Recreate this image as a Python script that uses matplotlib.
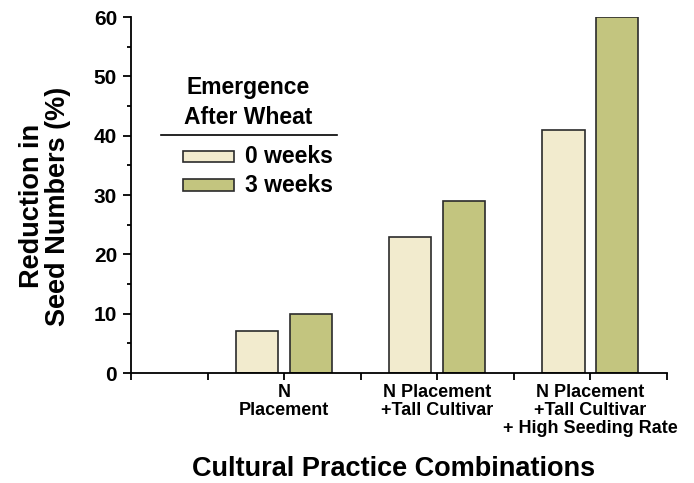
import numpy as np
import matplotlib.pyplot as plt
from matplotlib.ticker import MultipleLocator
from matplotlib.lines import Line2D
from matplotlib.patches import Rectangle

plt.rcParams['font.family'] = ['Liberation Sans', 'DejaVu Sans']
plt.rcParams['font.weight'] = 'bold'

categories = ['N\nPlacement', 'N Placement\n+Tall Cultivar',
              'N Placement\n+Tall Cultivar\n+ High Seeding Rate']
series_names = ['0 weeks', '3 weeks']
weeks0 = [7, 23, 41]
weeks3 = [10, 29, 60]
colors = ['#F2EBCE', '#C3C57F']

fig = plt.figure(figsize=(6.94, 4.83), dpi=100)
ax = fig.add_axes([0.1888, 0.2277, 0.7723, 0.737])

x = np.arange(1, len(categories) + 1)
w = 0.275
off = 0.176
ax.bar(x - off, weeks0, w, color=colors[0], edgecolor='#2b2b2b', linewidth=1.2)
ax.bar(x + off, weeks3, w, color=colors[1], edgecolor='#2b2b2b', linewidth=1.2)

ax.set_xlim(0, 3.5)
ax.set_ylim(0, 60)
ticks = np.arange(0, 3.51, 0.5)
ax.set_xticks(ticks)
labels = []
for t in ticks:
    if t in (1, 2, 3):
        labels.append(categories[int(t) - 1])
    else:
        labels.append('')
ax.set_xticklabels(labels, fontsize=13, fontweight='bold', linespacing=1.08)
ax.yaxis.set_major_locator(MultipleLocator(10))
ax.yaxis.set_minor_locator(MultipleLocator(5))
ax.tick_params(axis='y', which='major', direction='out', length=6, width=1.3, labelsize=15, pad=4)
ax.tick_params(axis='y', which='minor', direction='out', length=3, width=1.3)
ax.tick_params(axis='x', which='major', direction='out', length=5, width=1.3, pad=3)
for lab in ax.get_yticklabels():
    lab.set_fontweight('bold')

for s in ['top', 'right']:
    ax.spines[s].set_visible(False)
for s in ['left', 'bottom']:
    ax.spines[s].set_linewidth(1.3)

ax.set_ylabel('Reduction in\nSeed Numbers (%)', fontsize=19.5, fontweight='bold', linespacing=1.0)
ax.yaxis.set_label_coords(-0.112, 0.469)
ax.set_xlabel('Cultural Practice Combinations', fontsize=19.5, fontweight='bold')
ax.xaxis.set_label_coords(0.489, -0.233)

# legend drawn by hand
ax.text(0.219, 0.802, 'Emergence', transform=ax.transAxes, ha='center', va='center',
        fontsize=16.5, fontweight='bold')
ax.text(0.219, 0.718, 'After Wheat', transform=ax.transAxes, ha='center', va='center',
        fontsize=16.5, fontweight='bold')
ax.add_line(Line2D([0.056, 0.384], [0.6685, 0.6685], transform=ax.transAxes,
                   color='black', linewidth=1.2, clip_on=False))
leg_y = [(0.5927, 0.6236), (0.511, 0.545)]
for (y0, y1), c, name in zip(leg_y, colors, series_names):
    ax.add_patch(Rectangle((0.097, y0), 0.095, y1 - y0, transform=ax.transAxes,
                           facecolor=c, edgecolor='#2b2b2b', linewidth=1.2, clip_on=False))
    ax.text(0.2127, (y0 + y1) / 2, name, transform=ax.transAxes, ha='left', va='center',
            fontsize=16.5, fontweight='bold')

fig.savefig('out.png', dpi=100)
